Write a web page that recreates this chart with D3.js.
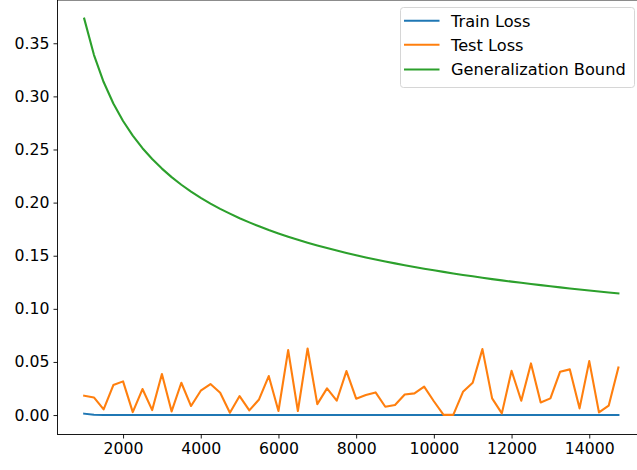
<!DOCTYPE html>
<html>
<head>
<meta charset="utf-8">
<script src="https://cdn.jsdelivr.net/npm/d3@7"></script>
<style>
  body { margin: 0; background: white; }
  svg { display: block; }
  text { font-family: "DejaVu Sans", sans-serif; fill: #000; }
</style>
</head>
<body>
<svg width="637" height="470"></svg>
<script>
// sample sizes on the x axis
const sampleSizes = [
    1000, 1250, 1500, 1750, 2000, 2250, 2500, 2750, 3000, 3250,
    3500, 3750, 4000, 4250, 4500, 4750, 5000, 5250, 5500, 5750,
    6000, 6250, 6500, 6750, 7000, 7250, 7500, 7750, 8000, 8250,
    8500, 8750, 9000, 9250, 9500, 9750, 10000, 10250, 10500, 10750,
    11000, 11250, 11500, 11750, 12000, 12250, 12500, 12750, 13000, 13250,
    13500, 13750, 14000, 14250, 14500, 14750
]

const trainLoss = [
    0.0013, 0.0003, 0.0001, 0.0001, 0.0001, 0.0001, 0.0001, 0.0001, 0.0001, 0.0001,
    0.0001, 0.0001, 0.0001, 0.0001, 0.0001, 0.0001, 0.0001, 0.0001, 0.0001, 0.0001,
    0.0001, 0.0001, 0.0001, 0.0001, 0.0001, 0.0001, 0.0001, 0.0001, 0.0001, 0.0001,
    0.0001, 0.0001, 0.0001, 0.0001, 0.0001, 0.0001, 0.0001, 0.0001, 0.0001, 0.0001,
    0.0001, 0.0001, 0.0001, 0.0001, 0.0001, 0.0001, 0.0001, 0.0001, 0.0001, 0.0001,
    0.0001, 0.0001, 0.0001, 0.0001, 0.0001, 0.0001
]

const testLoss = [
    0.0182, 0.0166, 0.0053, 0.0282, 0.0317, 0.0028, 0.0245, 0.0047, 0.0386, 0.0034,
    0.0304, 0.0085, 0.0229, 0.0292, 0.0210, 0.0022, 0.0179, 0.0044, 0.0147, 0.0367,
    0.0038, 0.0611, 0.0038, 0.0627, 0.0103, 0.0251, 0.0135, 0.0414, 0.0154, 0.0188,
    0.0213, 0.0078, 0.0094, 0.0194, 0.0204, 0.0267, 0.0130, 0.0002, 0.0002, 0.0219,
    0.0304, 0.0621, 0.0157, 0.0016, 0.0417, 0.0135, 0.0486, 0.0119, 0.0157, 0.0408,
    0.0430, 0.0063, 0.0508, 0.0025, 0.0088, 0.0448
]

const genBound = [
    0.3732, 0.3391, 0.3135, 0.2933, 0.2768, 0.2630, 0.2512, 0.2410, 0.2320, 0.2240,
    0.2168, 0.2103, 0.2045, 0.1991, 0.1941, 0.1896, 0.1853, 0.1814, 0.1777, 0.1742,
    0.1710, 0.1679, 0.1650, 0.1623, 0.1597, 0.1572, 0.1549, 0.1526, 0.1505, 0.1484,
    0.1465, 0.1446, 0.1428, 0.1411, 0.1394, 0.1378, 0.1363, 0.1348, 0.1333, 0.1319,
    0.1306, 0.1293, 0.1280, 0.1268, 0.1256, 0.1245, 0.1233, 0.1223, 0.1212, 0.1202,
    0.1192, 0.1182, 0.1173, 0.1163, 0.1154, 0.1145
]

const xTicks = [2000, 4000, 6000, 8000, 10000, 12000, 14000]
const yTicks = [0.00, 0.05, 0.10, 0.15, 0.20, 0.25, 0.30, 0.35]

const seriesNames = ['Train Loss', 'Test Loss', 'Generalization Bound']
const seriesColors = ['#1f77b4', '#ff7f0e', '#2ca02c']

;(function(d3){
    const select = d3.select
    const scaleLinear = d3.scaleLinear
    const line = d3.line

    const svg = select('svg')
    const fontSize = 15.7

    // plot frame (right edge falls off the canvas like the original)
    const frame = {left: 57.5, right: 645.1, top: 0, bottom: 434.5}

    const xScale = scaleLinear()
        .domain([312.5, 15437.5])
        .range([frame.left, frame.right])

    const yScale = scaleLinear()
        .domain([-0.0183, 0.3912])
        .range([frame.bottom, -0.5])

    const allSeries = [trainLoss, testLoss, genBound]

    const lineFn = line()
        .x((d, i) => xScale(sampleSizes[i]))
        .y(d => yScale(d))

    const plotG = svg.append('g').attr('class', 'lines')

    allSeries.forEach((values, k) => {
        plotG.append('path')
            .datum(values)
            .attr('d', lineFn)
            .attr('fill', 'none')
            .attr('stroke', seriesColors[k])
            .attr('stroke-width', 2.1)
            .attr('stroke-linejoin', 'round')
            .attr('stroke-linecap', 'square')
    })

    // spines
    svg.append('rect')
        .attr('x', frame.left)
        .attr('y', frame.top)
        .attr('width', frame.right - frame.left)
        .attr('height', frame.bottom - frame.top)
        .attr('fill', 'none')
        .attr('stroke', '#000')
        .attr('stroke-width', 0.9)

    const xAxis = d3.axisBottom(xScale)
        .tickValues(xTicks)
        .tickSize(4)
        .tickPadding(4)
        .tickFormat(d3.format('d'))

    const xAxisG = svg.append('g')
        .attr('transform', `translate(0, ${frame.bottom})`)
        .call(xAxis)
    xAxisG.select('.domain').remove()
    xAxisG.selectAll('.tick line').attr('stroke', '#000').attr('stroke-width', 0.9)
    xAxisG.selectAll('.tick text')
        .style('font-size', fontSize + 'px')
        .style('font-family', '"DejaVu Sans", sans-serif')
        .attr('fill', '#000')

    const yAxis = d3.axisLeft(yScale)
        .tickValues(yTicks)
        .tickSize(4)
        .tickPadding(4)
        .tickFormat(d3.format('.2f'))

    const yAxisG = svg.append('g')
        .attr('transform', `translate(${frame.left}, 0)`)
        .call(yAxis)
    yAxisG.select('.domain').remove()
    yAxisG.selectAll('.tick line').attr('stroke', '#000').attr('stroke-width', 0.9)
    yAxisG.selectAll('.tick text')
        .style('font-size', fontSize + 'px')
        .style('font-family', '"DejaVu Sans", sans-serif')
        .attr('fill', '#000')

    // legend
    const legendG = svg.append('g').attr('class', 'legend')
    legendG.append('rect')
        .attr('x', 400.5)
        .attr('y', 7.5)
        .attr('width', 234)
        .attr('height', 80)
        .attr('rx', 3)
        .attr('fill', 'white')
        .attr('fill-opacity', 0.8)
        .attr('stroke', '#d6d6d6')
        .attr('stroke-width', 1)

    const rowY = [20.7, 44.8, 69.5]
    seriesNames.forEach((name, k) => {
        legendG.append('line')
            .attr('x1', 404)
            .attr('x2', 439.5)
            .attr('y1', rowY[k])
            .attr('y2', rowY[k])
            .attr('stroke', seriesColors[k])
            .attr('stroke-width', 2.1)
        legendG.append('text')
            .attr('x', 451)
            .attr('y', rowY[k])
            .attr('dy', '0.36em')
            .style('font-size', '16.2px')
            .text(name)
    })
}(d3))
</script>
</body>
</html>
